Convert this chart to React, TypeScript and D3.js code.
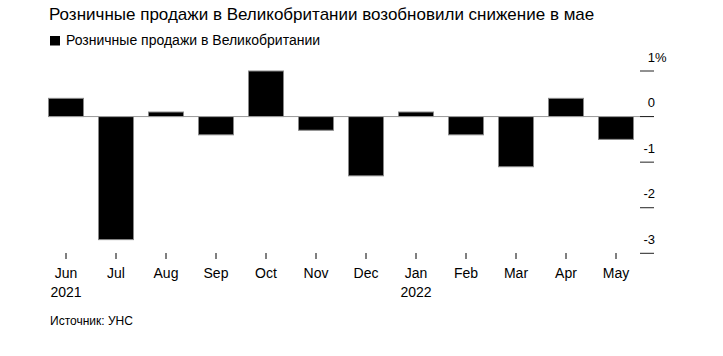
import React from "react";
import * as d3 from "d3";

const months = ["Jun", "Jul", "Aug", "Sep", "Oct", "Nov", "Dec", "Jan", "Feb", "Mar", "Apr", "May"];
const years = ["2021", "", "", "", "", "", "", "2022", "", "", "", ""];
const values = [0.4, -2.7, 0.1, -0.4, 1.0, -0.3, -1.3, 0.1, -0.4, -1.1, 0.4, -0.5];
const yTicks = [1, 0, -1, -2, -3];
const title = "Розничные продажи в Великобритании возобновили снижение в мае";
const legendLabel = "Розничные продажи в Великобритании";
const source = "Источник: УНС";

const W = 723;
const H = 356;
const FONT = "Arial, 'Liberation Sans', Helvetica, sans-serif";

export default function App() {
  const x = d3
    .scaleBand<string>()
    .domain(months)
    .range([41, 641])
    .paddingInner(0.3)
    .paddingOuter(0.15);
  const y = d3.scaleLinear().domain([-3, 1]).range([253.3, 71]);
  const y0 = y(0);

  return (
    <svg
      width={W}
      height={H}
      style={{ position: "absolute", left: 0, top: 0, background: "#fff" }}
      fontFamily={FONT}
    >
      <text x={49} y={20} fontSize={17} fill="#000">
        {title}
      </text>
      <rect x={50} y={36} width={10} height={9.5} fill="#000" />
      <text x={66} y={45} fontSize={14} fill="#000">
        {legendLabel}
      </text>

      {/* bars */}
      {values.map((v, i) => {
        const top = Math.min(y(v), y0);
        const h = Math.abs(y(v) - y0);
        return (
          <rect
            key={months[i]}
            x={x(months[i])!}
            y={top}
            width={x.bandwidth()}
            height={h}
            fill="#000"
            stroke="#888"
            strokeWidth={1}
          />
        );
      })}

      {/* zero line */}
      <line x1={49} x2={654} y1={y0} y2={y0} stroke="#999" strokeWidth={1} />

      {/* y axis */}
      {yTicks.map((t) => (
        <g key={t}>
          <line x1={640} x2={654} y1={y(t)} y2={y(t)} stroke="#222" strokeWidth={1} />
          <text x={655} y={y(t) - 9.5} fontSize={13} textAnchor="end" fill="#000">
            {t < 0 ? "-" + Math.abs(t) : String(t)}
          </text>
          {t === 1 && (
            <text x={655} y={y(t) - 9.5} fontSize={13} fill="#000">
              %
            </text>
          )}
        </g>
      ))}

      {/* x axis */}
      {months.map((m, i) => {
        const cx = x(m)! + x.bandwidth() / 2;
        return (
          <g key={m}>
            <line x1={cx} x2={cx} y1={253} y2={259} stroke="#000" strokeWidth={1} />
            <text x={cx} y={278} fontSize={14} textAnchor="middle" fill="#000">
              {m}
            </text>
            {years[i] && (
              <text x={cx} y={297} fontSize={14} textAnchor="middle" fill="#000">
                {years[i]}
              </text>
            )}
          </g>
        );
      })}

      <text x={50} y={325} fontSize={12} fill="#000">
        {source}
      </text>
    </svg>
  );
}
